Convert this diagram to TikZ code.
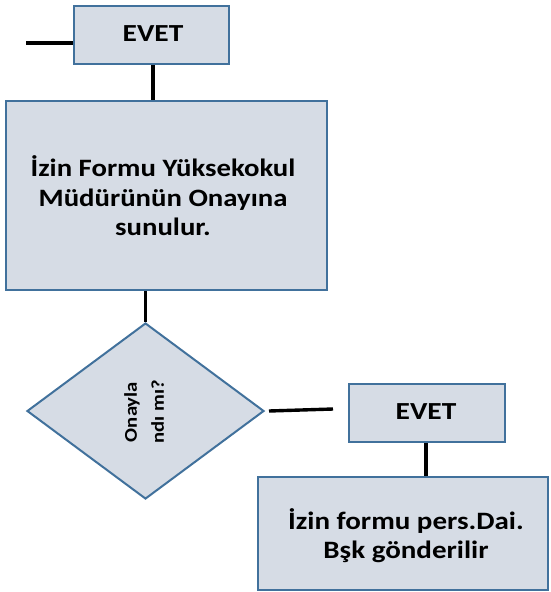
\documentclass[tikz,border=0pt]{standalone}
\usepackage{fontspec}
\setmainfont{Carlito}
\usetikzlibrary{shapes.geometric}
\definecolor{boxfill}{HTML}{D6DCE5}
\definecolor{boxline}{HTML}{41719C}
% text set a little wider than the font's own widths
\newcommand{\widetext}[2]{\scalebox{#1}[1]{\begin{tabular}{@{}c@{}}#2\end{tabular}}}
\tikzset{
  x=1pt, y=-1pt,
  flowbox/.style={draw=boxline, fill=boxfill, line width=2pt, inner sep=0pt},
  label text/.style={inner sep=0pt, font=\bfseries\fontsize{25}{28.5}\selectfont},
  link/.style={line width=3.4pt, black}
}
\begin{document}
\begin{tikzpicture}
\useasboundingbox (0,0) rectangle (550,592);
% top answer box and its input
\node[flowbox, minimum width=155pt, minimum height=58pt] (evetA) at (151.5,35) {};
\node[label text, font=\bfseries\fontsize{24.5}{29}\selectfont] (evetAT) at (153,35.5) {\widetext{1.2}{EVET}};
\coordinate (inA) at (26,43);
\draw[link] (inA) -- (evetA.west |- inA);
% request sent for approval
\node[flowbox, minimum width=321pt, minimum height=189pt] (onay) at (166.5,195.5) {};
\node[label text, font=\bfseries\fontsize{25}{29.5}\selectfont] (onayT) at (163,200)
  {\widetext{1.15}{İzin Formu Yüksekokul\\Müdürünün Onayına\\sunulur.}};
\draw[link] (evetA.south -| 153,0) -- (onay.north -| 153,0);
% decision
\node[draw=boxline, fill=boxfill, line width=2pt, diamond, inner sep=0pt,
  minimum width=237pt, minimum height=176pt, aspect=1.35] (karar) at (145.5,411) {};
\node[label text, rotate=90, font=\bfseries\fontsize{18}{27}\selectfont]
  (kararT) at (145,412) {\widetext{1.15}{Onayla\\ndı mı?}};
\draw[link] (onay.south -| karar.north) -- (karar.north);
% yes branch
\node[flowbox, minimum width=156pt, minimum height=58pt] (evetB) at (427,413) {};
\node[label text, font=\bfseries\fontsize{24.5}{29}\selectfont] (evetBT) at (426,413.5) {\widetext{1.2}{EVET}};
\coordinate (outB) at (333,409);
\draw[link] (karar.east) ++(4,0) coordinate (kE) -- (outB);
% form forwarded to personnel department
\node[flowbox, minimum width=290pt, minimum height=113pt] (pers) at (403,533.5) {};
\node[label text] (persT) at (406,538)
  {\widetext{1.16}{İzin formu pers.Dai.\\Bşk gönderilir}};
\draw[link] (evetB.south -| 426,0) -- (pers.north -| 426,0);
\end{tikzpicture}
\end{document}
